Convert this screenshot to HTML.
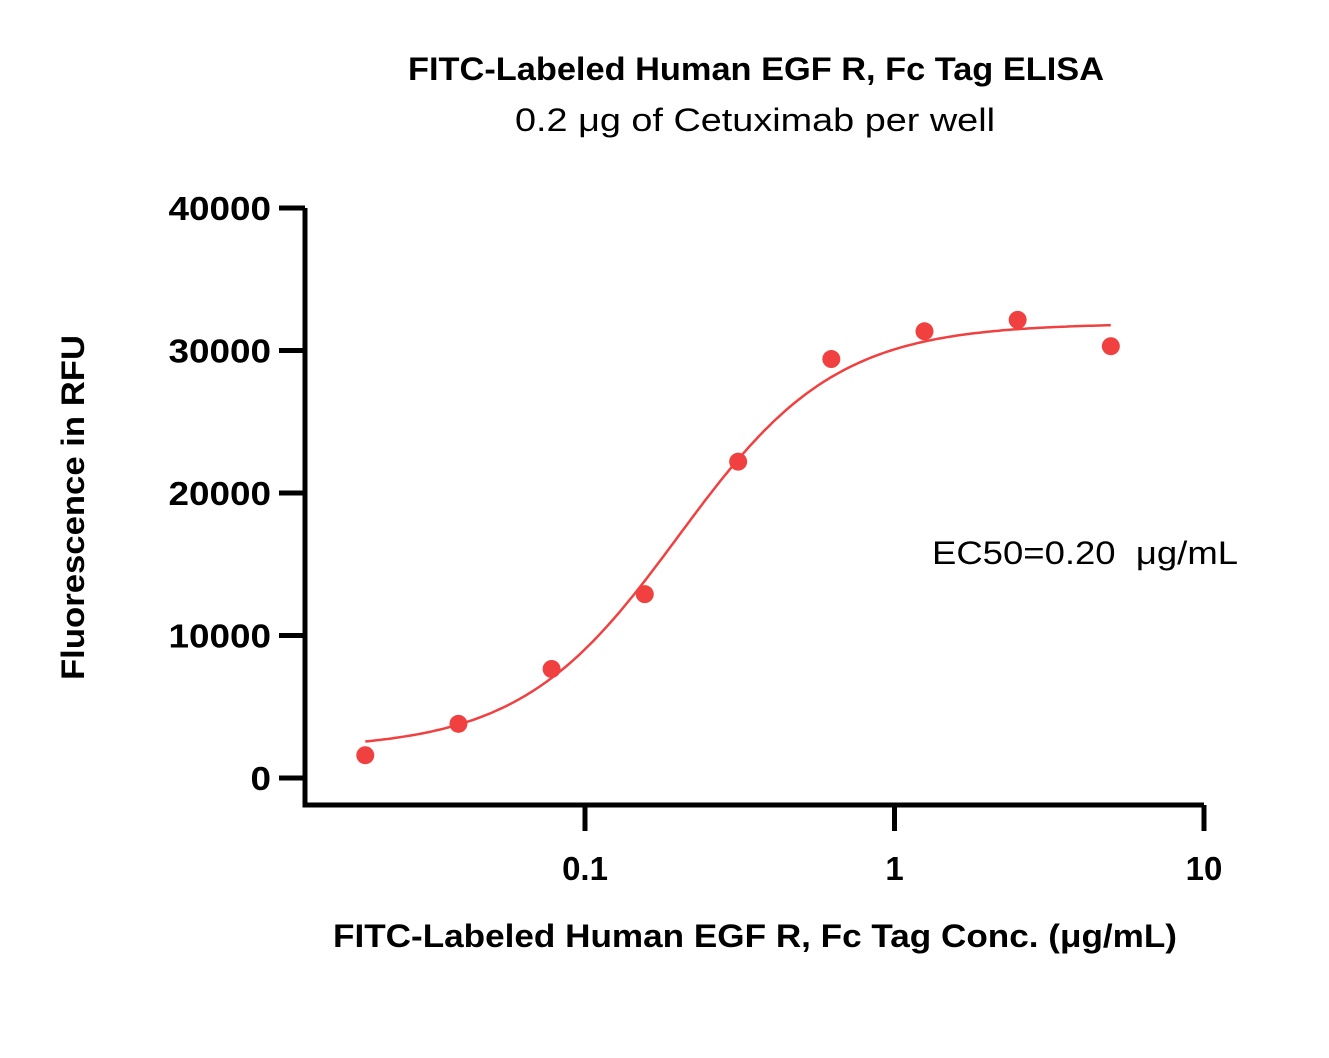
<!DOCTYPE html>
<html><head><meta charset="utf-8"><style>
body{margin:0;background:#fff;}
svg text{font-family:"Liberation Sans",sans-serif;fill:#000;}
</style></head><body>
<svg width="1329" height="1053" xmlns="http://www.w3.org/2000/svg" id="chart">
<text x="408" y="80" font-size="32" font-weight="bold" textLength="696" lengthAdjust="spacingAndGlyphs">FITC-Labeled Human EGF R, Fc Tag ELISA</text>
<text x="515" y="131" font-size="32" textLength="480" lengthAdjust="spacingAndGlyphs">0.2 μg of Cetuximab per well</text>
<text transform="translate(84,680) rotate(-90)" font-size="32" font-weight="bold" textLength="345" lengthAdjust="spacingAndGlyphs">Fluorescence in RFU</text>
<text x="333" y="947" font-size="32" font-weight="bold" textLength="844" lengthAdjust="spacingAndGlyphs">FITC-Labeled Human EGF R, Fc Tag Conc. (μg/mL)</text>
<text x="932" y="564" font-size="32" textLength="306" lengthAdjust="spacingAndGlyphs" xml:space="preserve">EC50=0.20  μg/mL</text>
<g id="axes"></g><g id="marks"></g>
</svg>
<script>
const conc=[0.0195,0.039,0.078,0.156,0.3125,0.625,1.25,2.5,5];
const rfu=[1600,3800,7650,12900,22200,29400,31350,32150,30300];
const yTicks=[0,10000,20000,30000,40000];
const xTicks=[0.1,1,10];
const xTickLabels=["0.1","1","10"];
const fitParams=[2000,31900,0.20,1.7];
const NS="http://www.w3.org/2000/svg";
const X=v=>585+(Math.log10(v)+1)*309.5;
const Y=v=>778-v*570/40000;
const axes=document.getElementById('axes'),marks=document.getElementById('marks');
function mk(p,tag,a){const e=document.createElementNS(NS,tag);for(const k in a)e.setAttribute(k,a[k]);p.appendChild(e);return e;}
let e=mk(axes,'path',{d:'M305,208 V805 H1204',fill:'none',stroke:'#000','stroke-width':5});


yTicks.forEach(t=>{
 let l=mk(axes,'line',{x1:279,x2:305,y1:Y(t),y2:Y(t),stroke:'#000','stroke-width':5});
 
 
 const s=String(t);
 let tx=mk(axes,'text',{x:271,y:Y(t)+12,'text-anchor':'end','font-size':33,'font-weight':'bold',textLength:s.length*20.5,lengthAdjust:'spacingAndGlyphs'});
 tx.textContent=s;
 
 
});
xTicks.forEach((t,i)=>{
 let l=mk(axes,'line',{x1:X(t),x2:X(t),y1:805,y2:831,stroke:'#000','stroke-width':5});
 
 
 let tx=mk(axes,'text',{x:X(t),y:880,'text-anchor':'middle','font-size':33,'font-weight':'bold'});
 tx.textContent=xTickLabels[i];
 
 
});
const [b,tp,ec,h]=fitParams;
let d='';
const lo=Math.log10(conc[0]),hi=Math.log10(conc[conc.length-1]);
for(let i=0;i<=200;i++){const lx=lo+(hi-lo)*i/200,c=Math.pow(10,lx);const v=b+(tp-b)/(1+Math.pow(ec/c,h));d+=(i?'L':'M')+X(c).toFixed(1)+','+Y(v).toFixed(1);}
let cv=mk(marks,'path',{d:d,fill:'none',stroke:'#f04040','stroke-width':2.5});


conc.forEach((c,i)=>{
 let p=mk(marks,'ellipse',{cx:X(c),cy:Y(rfu[i]),rx:9,ry:9,fill:'#f04040'});
 
 
});
</script>
</body></html>
